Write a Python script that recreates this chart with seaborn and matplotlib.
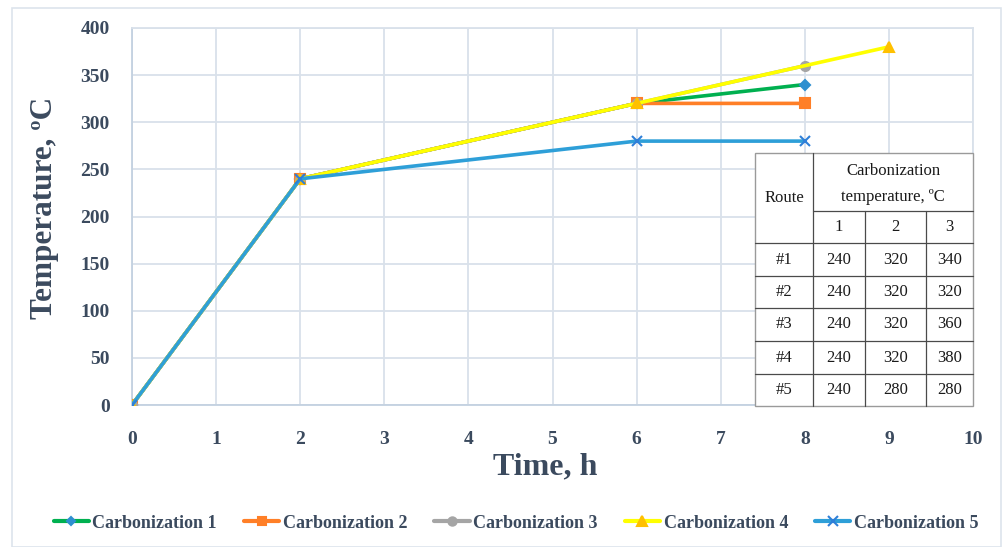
import matplotlib
matplotlib.use("Agg")
import matplotlib.pyplot as plt
import seaborn as sns
import pandas as pd
from matplotlib.lines import Line2D
from matplotlib.patches import Rectangle

# ---------------- data ----------------
series_names = ["Carbonization 1", "Carbonization 2", "Carbonization 3",
                "Carbonization 4", "Carbonization 5"]
time_1 = [0, 2, 6, 8]
temp_1 = [0, 240, 320, 340]
time_2 = [0, 2, 6, 8]
temp_2 = [0, 240, 320, 320]
time_3 = [0, 2, 6, 8]
temp_3 = [0, 240, 320, 360]
time_4 = [0, 2, 6, 9]
temp_4 = [0, 240, 320, 380]
time_5 = [0, 2, 6, 8]
temp_5 = [0, 240, 280, 280]

x_ticks = [0, 1, 2, 3, 4, 5, 6, 7, 8, 9, 10]
y_ticks = [0, 50, 100, 150, 200, 250, 300, 350, 400]

table_routes = ["#1", "#2", "#3", "#4", "#5"]
table_stage1 = [240, 240, 240, 240, 240]
table_stage2 = [320, 320, 320, 320, 280]
table_stage3 = [340, 320, 360, 380, 280]
table_cols = ["1", "2", "3"]

# ---------------- style ----------------
sns.set_theme(style="white")
plt.rcParams["font.family"] = ["Liberation Serif", "DejaVu Serif"]
TXT = "#3b4a5e"
GRID = "#d9e1ea"

W, H = 1005, 547
fig = plt.figure(figsize=(W / 100, H / 100), dpi=100)
fig.patch.set_facecolor("white")
ax = fig.add_axes([132 / W, 1 - 405 / H, (973 - 132) / W, (405 - 28) / H])

styles = [
    dict(color="#00b050", marker="D", ms=5, mfc="#2e8fd0", mec="#2e8fd0"),
    dict(color="#ff7f27", marker="s", ms=6.5, mfc="#ff7f27", mec="#ff7f27"),
    dict(color="#a5a5a5", marker="o", ms=6.5, mfc="#a5a5a5", mec="#a5a5a5"),
    dict(color="#ffff00", marker="^", ms=7, mfc="#ffc000", mec="#ffc000"),
    dict(color="#2e9fd8", marker="x", ms=7, mfc="#2e7fd8", mec="#2e7fd8"),
]
xs = [time_1, time_2, time_3, time_4, time_5]
ys = [temp_1, temp_2, temp_3, temp_4, temp_5]

handles = []
for name, x, y, st in zip(series_names, xs, ys, styles):
    df = pd.DataFrame({"Time": x, "Temp": y})
    sns.lineplot(data=df, x="Time", y="Temp", ax=ax, color=st["color"],
                 linewidth=2.6, marker=st["marker"], markersize=st["ms"],
                 markerfacecolor=st["mfc"], markeredgecolor=st["mec"],
                 markeredgewidth=1.5, legend=False, zorder=3)
    handles.append(Line2D([], [], color=st["color"], lw=3, marker=st["marker"],
                          ms=st["ms"] - 0.5, mfc=st["mfc"], mec=st["mec"],
                          mew=1.5, label=name))

ax.set_xlim(0, 10)
ax.set_ylim(0, 400)
ax.set_xticks(x_ticks)
ax.set_yticks(y_ticks)
ax.grid(True, color=GRID, lw=1.3)
ax.set_axisbelow(True)
for s in ax.spines.values():
    s.set_color(GRID)
    s.set_linewidth(1.3)
ax.spines["left"].set_color("#c3d1e0")
ax.spines["bottom"].set_color("#c3d1e0")
ax.tick_params(axis="x", length=0, pad=19, labelsize=14, labelcolor=TXT)
ax.tick_params(axis="y", length=0, pad=16, labelsize=14, labelcolor=TXT)
for lab in ax.get_xticklabels() + ax.get_yticklabels():
    lab.set_fontweight("bold")

ax.set_xlabel("")
ax.set_ylabel("")
fig.text(545 / W, 1 - 467 / H, "Time, h", ha="center", va="center",
         fontsize=23, fontweight="bold", color=TXT)
fig.text(45 / W, 1 - 208 / H, "Temperature, ºC", ha="center", va="center",
         rotation=90, fontsize=22.5, fontweight="bold", color=TXT)

# legend
leg = fig.legend(handles=handles, loc="center", ncol=5,
                 bbox_to_anchor=(516 / W, 1 - 523 / H), frameon=False,
                 prop=dict(family="Liberation Serif", weight="bold", size=13),
                 handlelength=1.95, handletextpad=0.2, columnspacing=1.5,
                 borderpad=0, borderaxespad=0)
for t in leg.get_texts():
    t.set_color(TXT)

# outer border
fig.add_artist(Rectangle((12 / W, 0.5 / H), (1001 - 12) / W, (547 - 8 - 0.5) / H,
                         transform=fig.transFigure, fill=False,
                         edgecolor="#dde4ec", lw=1.2))

# ---------------- table ----------------
def fx(px):
    return px / W

def fy(py):
    return 1 - py / H

col_x = [755, 813, 865, 926, 973]
row_y = [153, 211, 243, 276, 308, 341, 374, 406]
fig.add_artist(Rectangle((fx(755), fy(406)), fx(973) - fx(755), fy(153) - fy(406),
                         transform=fig.transFigure, facecolor="white",
                         edgecolor="#9a9a9a", lw=1, zorder=5))
LC = "#4a4a4a"
def hline(y, x0, x1):
    fig.add_artist(Line2D([fx(x0), fx(x1)], [fy(y), fy(y)], color=LC, lw=0.9,
                          transform=fig.transFigure, zorder=6))
def vline(x, y0, y1):
    fig.add_artist(Line2D([fx(x), fx(x)], [fy(y0), fy(y1)], color=LC, lw=0.9,
                          transform=fig.transFigure, zorder=6))

hline(211, 813, 973)
for y in row_y[2:7]:
    hline(y, 755, 973)
vline(813, 153, 406)
vline(865, 211, 406)
vline(926, 211, 406)

TS = 12
def cell(x0, x1, y0, y1, s):
    fig.text((fx(x0) + fx(x1)) / 2, (fy(y0) + fy(y1)) / 2, s, ha="center",
             va="center", fontsize=TS, color="#1a1a1a", zorder=7)

cell(755, 813, 153, 243, "Route")
fig.text((fx(813) + fx(973)) / 2, fy(171), "Carbonization", ha="center",
         va="center", fontsize=TS, color="#1a1a1a", zorder=7)
fig.text((fx(813) + fx(973)) / 2, fy(197), "temperature, ºC", ha="center",
         va="center", fontsize=TS, color="#1a1a1a", zorder=7)
for i, c in enumerate(table_cols):
    cell(col_x[i + 1], col_x[i + 2], 211, 243, c)
for r, (rt, a, b, c) in enumerate(zip(table_routes, table_stage1,
                                      table_stage2, table_stage3)):
    y0, y1 = row_y[r + 2], row_y[r + 3]
    cell(col_x[0], col_x[1], y0, y1, rt)
    cell(col_x[1], col_x[2], y0, y1, str(a))
    cell(col_x[2], col_x[3], y0, y1, str(b))
    cell(col_x[3], col_x[4], y0, y1, str(c))

fig.savefig("out.png", dpi=100)
